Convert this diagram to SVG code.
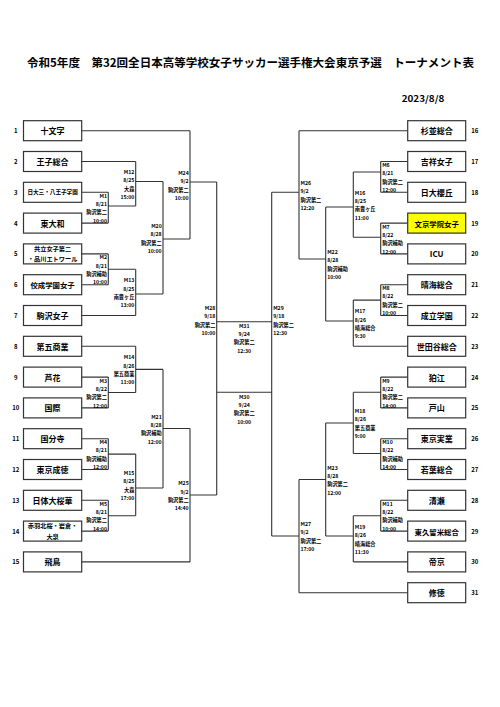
<svg xmlns="http://www.w3.org/2000/svg" width="500" height="707" viewBox="0 0 500 707">
<style>
text{font-family:"Noto Sans CJK JP","Noto Sans",sans-serif;font-weight:bold;fill:#000}
.box{fill:#fff;stroke:#333;stroke-width:1.2}
.hl{fill:#ffff00}
.tn{font-size:8px;text-anchor:middle;dominant-baseline:central}
.s56{font-size:5.6px}.s63{font-size:6.2px}.s74{font-size:7.4px}
.num{font-size:6px;text-anchor:middle;dominant-baseline:central}
.ml{font-size:5.2px;dominant-baseline:central}
.l{text-anchor:end}.r{text-anchor:start}.c{text-anchor:middle}
.conn{fill:none;stroke:#333;stroke-width:1.1}
</style>
<rect width="500" height="707" fill="#fff"/>
<text x="27" y="66.5" style="font-size:11.5px" textLength="447" lengthAdjust="spacingAndGlyphs">令和5年度　第32回全日本高等学校女子サッカー選手権大会東京予選　トーナメント表</text>
<text x="401.7" y="101.6" style="font-size:9px" textLength="42.6" lengthAdjust="spacingAndGlyphs">2023/8/8</text>

<g id="connectors" class="conn">
<path d="M81.7 130.7H190M81.7 161.5H135.7M81.7 192.3H108.3M81.7 223.1H108.3M81.7 253.9H108.3M81.7 284.7H108.3M81.7 315.5H135.7M81.7 346.3H135.7M81.7 377.1H108.3M81.7 407.9H108.3M81.7 438.7H108.3M81.7 469.5H108.3M81.7 500.3H108.3M81.7 531.1H108.3M81.7 561.9H190"/>
<path d="M108.3 192.3V223.1M108.3 206H135.7M108.3 253.9V284.7M108.3 269.3H135.7M108.3 377.1V407.9M108.3 392.5H135.7M108.3 438.7V469.5M108.3 454.1H135.7M108.3 500.3V531.1M108.3 515.7H135.7"/>
<path d="M135.7 161.5V206M135.7 181.5H163M135.7 269.3V315.5M135.7 294H163M135.7 346.3V392.5M135.7 369.4H163M135.7 454.1V515.7M135.7 488H163"/>
<path d="M163 181.5V294M163 239H190M163 369.4V488M163 428.5H190"/>
<path d="M190 130.7V239M190 182H216.7M190 428.5V561.9M190 495H216.7M216.7 182V495"/>
<path d="M216.7 321.7H271.7M216.7 392.3H271.7M271.7 192.3V536"/>
<path d="M407.7 130.7H299M407.7 161.5H380.7M407.7 192.3H380.7M407.7 223.1H380.7M407.7 253.9H380.7M407.7 284.7H380.7M407.7 315.5H380.7M407.7 346.3H353.3M407.7 377.1H380.7M407.7 407.9H380.7M407.7 438.7H380.7M407.7 469.5H380.7M407.7 500.3H380.7M407.7 531.1H380.7M407.7 561.9H353.3M407.7 592.7H299"/>
<path d="M380.7 161.5V192.3M380.7 172H353.3M380.7 223.1V253.9M380.7 237.3H353.3M380.7 284.7V315.5M380.7 300.1H353.3M380.7 377.1V407.9M380.7 392.3H353.3M380.7 438.7V469.5M380.7 453.5H353.3M380.7 500.3V531.1M380.7 515.7H353.3"/>
<path d="M353.3 172V237.3M353.3 207H325.7M353.3 300.1V346.3M353.3 321H325.7M353.3 392.3V453.5M353.3 423H325.7M353.3 515.7V561.9M353.3 536H325.7"/>
<path d="M325.7 207V321M325.7 259H299M325.7 423V536M325.7 479.5H299M299 130.7V259M299 192.3H271.7M299 479.5V592.7M299 536H271.7"/>
</g>

<g id="match-labels" class="ml">
<g id="M1" class="l"><text x="107" y="195.2">M1</text><text x="107" y="203.5">8/21</text><text x="107" y="211.9">駒沢第二</text><text x="107" y="220.2">10:00</text></g>
<g id="M2" class="l"><text x="107" y="256.8">M2</text><text x="107" y="265.1">8/21</text><text x="107" y="273.5">駒沢補助</text><text x="107" y="281.8">10:00</text></g>
<g id="M3" class="l"><text x="107" y="380">M3</text><text x="107" y="388.3">8/22</text><text x="107" y="396.7">駒沢第二</text><text x="107" y="405">12:00</text></g>
<g id="M4" class="l"><text x="107" y="441.6">M4</text><text x="107" y="449.9">8/21</text><text x="107" y="458.3">駒沢補助</text><text x="107" y="466.6">12:00</text></g>
<g id="M5" class="l"><text x="107" y="503.2">M5</text><text x="107" y="511.5">8/21</text><text x="107" y="519.9">駒沢第二</text><text x="107" y="528.2">14:00</text></g>
<g id="M12" class="l"><text x="134.4" y="171.3">M12</text><text x="134.4" y="179.6">8/25</text><text x="134.4" y="188">大森</text><text x="134.4" y="196.3">15:00</text></g>
<g id="M13" class="l"><text x="134.4" y="279.9">M13</text><text x="134.4" y="288.2">8/25</text><text x="134.4" y="296.6">南豊ヶ丘</text><text x="134.4" y="304.9">13:00</text></g>
<g id="M14" class="l"><text x="134.4" y="356.9">M14</text><text x="134.4" y="365.2">8/26</text><text x="134.4" y="373.6">第五商業</text><text x="134.4" y="381.9">11:00</text></g>
<g id="M15" class="l"><text x="134.4" y="472.4">M15</text><text x="134.4" y="480.7">8/25</text><text x="134.4" y="489.1">大森</text><text x="134.4" y="497.4">17:00</text></g>
<g id="M20" class="l"><text x="161.7" y="225.3">M20</text><text x="161.7" y="233.6">8/28</text><text x="161.7" y="242">駒沢第二</text><text x="161.7" y="250.3">10:00</text></g>
<g id="M21" class="l"><text x="161.7" y="416.2">M21</text><text x="161.7" y="424.5">8/28</text><text x="161.7" y="432.9">駒沢補助</text><text x="161.7" y="441.2">12:00</text></g>
<g id="M24" class="l"><text x="188.7" y="172.3">M24</text><text x="188.7" y="180.6">9/2</text><text x="188.7" y="189">駒沢第二</text><text x="188.7" y="197.3">10:00</text></g>
<g id="M25" class="l"><text x="188.7" y="482.7">M25</text><text x="188.7" y="491">9/2</text><text x="188.7" y="499.4">駒沢第二</text><text x="188.7" y="507.7">14:40</text></g>
<g id="M28" class="l"><text x="215.4" y="307.5">M28</text><text x="215.4" y="315.8">9/18</text><text x="215.4" y="324.2">駒沢第二</text><text x="215.4" y="332.5">10:00</text></g>
<g id="M29" class="r"><text x="273.2" y="307.5">M29</text><text x="273.2" y="315.8">9/18</text><text x="273.2" y="324.2">駒沢第二</text><text x="273.2" y="332.5">12:30</text></g>
<g id="M31" class="c"><text x="244.2" y="325">M31</text><text x="244.2" y="333.3">9/24</text><text x="244.2" y="341.6">駒沢第二</text><text x="244.2" y="350">12:30</text></g>
<g id="M30" class="c"><text x="244.2" y="396.3">M30</text><text x="244.2" y="404.6">9/24</text><text x="244.2" y="412.9">駒沢第二</text><text x="244.2" y="421.2">10:00</text></g>
<g id="M6" class="r"><text x="382.2" y="164.4">M6</text><text x="382.2" y="172.7">8/21</text><text x="382.2" y="181.1">駒沢第二</text><text x="382.2" y="189.4">12:00</text></g>
<g id="M7" class="r"><text x="382.2" y="226">M7</text><text x="382.2" y="234.3">8/22</text><text x="382.2" y="242.7">駒沢補助</text><text x="382.2" y="251">12:00</text></g>
<g id="M8" class="r"><text x="382.2" y="287.6">M8</text><text x="382.2" y="295.9">8/22</text><text x="382.2" y="304.3">駒沢第二</text><text x="382.2" y="312.6">10:00</text></g>
<g id="M9" class="r"><text x="382.2" y="380">M9</text><text x="382.2" y="388.3">8/22</text><text x="382.2" y="396.7">駒沢第二</text><text x="382.2" y="405">14:00</text></g>
<g id="M10" class="r"><text x="382.2" y="441.6">M10</text><text x="382.2" y="449.9">8/22</text><text x="382.2" y="458.3">駒沢補助</text><text x="382.2" y="466.6">14:00</text></g>
<g id="M11" class="r"><text x="382.2" y="503.2">M11</text><text x="382.2" y="511.5">8/22</text><text x="382.2" y="519.9">駒沢補助</text><text x="382.2" y="528.2">10:00</text></g>
<g id="M16" class="r"><text x="354.8" y="192.2">M16</text><text x="354.8" y="200.5">8/25</text><text x="354.8" y="208.9">南豊ヶ丘</text><text x="354.8" y="217.2">11:00</text></g>
<g id="M17" class="r"><text x="354.8" y="310.7">M17</text><text x="354.8" y="319">8/26</text><text x="354.8" y="327.4">晴海総合</text><text x="354.8" y="335.7">9:30</text></g>
<g id="M18" class="r"><text x="354.8" y="410.4">M18</text><text x="354.8" y="418.7">8/26</text><text x="354.8" y="427.1">第五商業</text><text x="354.8" y="435.4">9:00</text></g>
<g id="M19" class="r"><text x="354.8" y="526.3">M19</text><text x="354.8" y="534.6">8/26</text><text x="354.8" y="543">晴海総合</text><text x="354.8" y="551.3">11:30</text></g>
<g id="M22" class="r"><text x="327.2" y="251.5">M22</text><text x="327.2" y="259.8">8/28</text><text x="327.2" y="268.2">駒沢補助</text><text x="327.2" y="276.5">10:00</text></g>
<g id="M23" class="r"><text x="327.2" y="467">M23</text><text x="327.2" y="475.3">8/28</text><text x="327.2" y="483.7">駒沢第二</text><text x="327.2" y="492">12:00</text></g>
<g id="M26" class="r"><text x="300.5" y="182.3">M26</text><text x="300.5" y="190.6">9/2</text><text x="300.5" y="199">駒沢第二</text><text x="300.5" y="207.3">12:20</text></g>
<g id="M27" class="r"><text x="300.5" y="523.5">M27</text><text x="300.5" y="531.8">9/2</text><text x="300.5" y="540.2">駒沢第二</text><text x="300.5" y="548.5">17:00</text></g>
</g>

<g id="team-1"><text class="num" x="15.7" y="130.7">1</text><rect class="box" x="23.5" y="120.7" width="58.2" height="20"/><text class="tn" x="52.6" y="130.7">十文字</text></g>
<g id="team-2"><text class="num" x="15.7" y="161.5">2</text><rect class="box" x="23.5" y="151.5" width="58.2" height="20"/><text class="tn" x="52.6" y="161.5">王子総合</text></g>
<g id="team-3"><text class="num" x="15.7" y="192.3">3</text><rect class="box" x="23.5" y="182.3" width="58.2" height="20"/><text class="tn s56" x="52.6" y="192.3">日大三・八王子学園</text></g>
<g id="team-4"><text class="num" x="15.7" y="223.1">4</text><rect class="box" x="23.5" y="213.1" width="58.2" height="20"/><text class="tn" x="52.6" y="223.1">東大和</text></g>
<g id="team-5"><text class="num" x="15.7" y="253.9">5</text><rect class="box" x="23.5" y="243.9" width="58.2" height="20"/><text class="tn s63" x="52.6" y="248.4">共立女子第二</text><text class="tn s63" x="52.6" y="258.9">・品川エトワール</text></g>
<g id="team-6"><text class="num" x="15.7" y="284.7">6</text><rect class="box" x="23.5" y="274.7" width="58.2" height="20"/><text class="tn s74" x="52.6" y="284.7">佼成学園女子</text></g>
<g id="team-7"><text class="num" x="15.7" y="315.5">7</text><rect class="box" x="23.5" y="305.5" width="58.2" height="20"/><text class="tn" x="52.6" y="315.5">駒沢女子</text></g>
<g id="team-8"><text class="num" x="15.7" y="346.3">8</text><rect class="box" x="23.5" y="336.3" width="58.2" height="20"/><text class="tn" x="52.6" y="346.3">第五商業</text></g>
<g id="team-9"><text class="num" x="15.7" y="377.1">9</text><rect class="box" x="23.5" y="367.1" width="58.2" height="20"/><text class="tn" x="52.6" y="377.1">芦花</text></g>
<g id="team-10"><text class="num" x="15.7" y="407.9">10</text><rect class="box" x="23.5" y="397.9" width="58.2" height="20"/><text class="tn" x="52.6" y="407.9">国際</text></g>
<g id="team-11"><text class="num" x="15.7" y="438.7">11</text><rect class="box" x="23.5" y="428.7" width="58.2" height="20"/><text class="tn" x="52.6" y="438.7">国分寺</text></g>
<g id="team-12"><text class="num" x="15.7" y="469.5">12</text><rect class="box" x="23.5" y="459.5" width="58.2" height="20"/><text class="tn" x="52.6" y="469.5">東京成徳</text></g>
<g id="team-13"><text class="num" x="15.7" y="500.3">13</text><rect class="box" x="23.5" y="490.3" width="58.2" height="20"/><text class="tn" x="52.6" y="500.3">日体大桜華</text></g>
<g id="team-14"><text class="num" x="15.7" y="531.1">14</text><rect class="box" x="23.5" y="521.1" width="58.2" height="20"/><text class="tn s63" x="52.6" y="525">赤羽北桜・岩倉・</text><text class="tn s63" x="52.6" y="536.6">大泉</text></g>
<g id="team-15"><text class="num" x="15.7" y="561.9">15</text><rect class="box" x="23.5" y="551.9" width="58.2" height="20"/><text class="tn" x="52.6" y="561.9">飛鳥</text></g>

<g id="team-16"><rect class="box" x="407.7" y="120.7" width="58" height="20"/><text class="tn" x="436.7" y="130.7">杉並総合</text><text class="num" x="474.7" y="130.7">16</text></g>
<g id="team-17"><rect class="box" x="407.7" y="151.5" width="58" height="20"/><text class="tn" x="436.7" y="161.5">吉祥女子</text><text class="num" x="474.7" y="161.5">17</text></g>
<g id="team-18"><rect class="box" x="407.7" y="182.3" width="58" height="20"/><text class="tn" x="436.7" y="192.3">日大櫻丘</text><text class="num" x="474.7" y="192.3">18</text></g>
<g id="team-19"><rect class="box hl" x="407.7" y="213.1" width="58" height="20"/><text class="tn s74" x="436.7" y="223.1">文京学院女子</text><text class="num" x="474.7" y="223.1">19</text></g>
<g id="team-20"><rect class="box" x="407.7" y="243.9" width="58" height="20"/><text class="tn" x="436.7" y="253.9">ICU</text><text class="num" x="474.7" y="253.9">20</text></g>
<g id="team-21"><rect class="box" x="407.7" y="274.7" width="58" height="20"/><text class="tn" x="436.7" y="284.7">晴海総合</text><text class="num" x="474.7" y="284.7">21</text></g>
<g id="team-22"><rect class="box" x="407.7" y="305.5" width="58" height="20"/><text class="tn" x="436.7" y="315.5">成立学園</text><text class="num" x="474.7" y="315.5">22</text></g>
<g id="team-23"><rect class="box" x="407.7" y="336.3" width="58" height="20"/><text class="tn" x="436.7" y="346.3">世田谷総合</text><text class="num" x="474.7" y="346.3">23</text></g>
<g id="team-24"><rect class="box" x="407.7" y="367.1" width="58" height="20"/><text class="tn" x="436.7" y="377.1">狛江</text><text class="num" x="474.7" y="377.1">24</text></g>
<g id="team-25"><rect class="box" x="407.7" y="397.9" width="58" height="20"/><text class="tn" x="436.7" y="407.9">戸山</text><text class="num" x="474.7" y="407.9">25</text></g>
<g id="team-26"><rect class="box" x="407.7" y="428.7" width="58" height="20"/><text class="tn" x="436.7" y="438.7">東京実業</text><text class="num" x="474.7" y="438.7">26</text></g>
<g id="team-27"><rect class="box" x="407.7" y="459.5" width="58" height="20"/><text class="tn" x="436.7" y="469.5">若葉総合</text><text class="num" x="474.7" y="469.5">27</text></g>
<g id="team-28"><rect class="box" x="407.7" y="490.3" width="58" height="20"/><text class="tn" x="436.7" y="500.3">清瀬</text><text class="num" x="474.7" y="500.3">28</text></g>
<g id="team-29"><rect class="box" x="407.7" y="521.1" width="58" height="20"/><text class="tn s74" x="436.7" y="531.1">東久留米総合</text><text class="num" x="474.7" y="531.1">29</text></g>
<g id="team-30"><rect class="box" x="407.7" y="551.9" width="58" height="20"/><text class="tn" x="436.7" y="561.9">帝京</text><text class="num" x="474.7" y="561.9">30</text></g>
<g id="team-31"><rect class="box" x="407.7" y="582.7" width="58" height="20"/><text class="tn" x="436.7" y="592.7">修徳</text><text class="num" x="474.7" y="592.7">31</text></g>
</svg>
